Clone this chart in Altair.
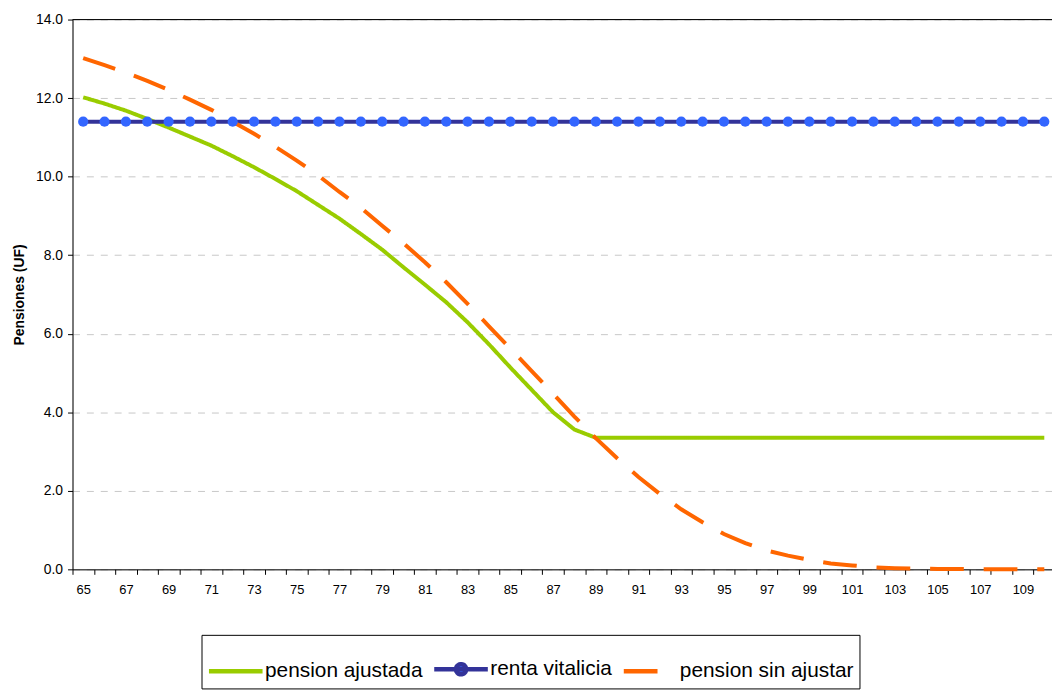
import altair as alt
import pandas as pd

# ---- data ----
edades = list(range(65, 111))

pension_ajustada = [12.02, 11.86, 11.68, 11.47, 11.25, 11.02, 10.79, 10.52, 10.24, 9.94,
                    9.63, 9.28, 8.93, 8.54, 8.14, 7.69, 7.25, 6.80, 6.29, 5.73,
                    5.14, 4.57, 4.00, 3.56, 3.35, 3.35, 3.35, 3.35, 3.35, 3.35,
                    3.35, 3.35, 3.35, 3.35, 3.35, 3.35, 3.35, 3.35, 3.35, 3.35,
                    3.35, 3.35, 3.35, 3.35, 3.35, 3.35]

renta_vitalicia = [11.4, 11.4, 11.4, 11.4, 11.4, 11.4, 11.4, 11.4, 11.4, 11.4,
                   11.4, 11.4, 11.4, 11.4, 11.4, 11.4, 11.4, 11.4, 11.4, 11.4,
                   11.4, 11.4, 11.4, 11.4, 11.4, 11.4, 11.4, 11.4, 11.4, 11.4,
                   11.4, 11.4, 11.4, 11.4, 11.4, 11.4, 11.4, 11.4, 11.4, 11.4,
                   11.4, 11.4, 11.4, 11.4, 11.4, 11.4]

pension_sin_ajustar = [13.02, 12.84, 12.65, 12.44, 12.21, 11.96, 11.70, 11.40, 11.09, 10.76,
                       10.41, 10.03, 9.61, 9.21, 8.75, 8.30, 7.82, 7.31, 6.76, 6.19,
                       5.62, 5.05, 4.47, 3.89, 3.34, 2.83, 2.35, 1.92, 1.53, 1.20,
                       0.90, 0.67, 0.48, 0.35, 0.24, 0.15, 0.10, 0.05, 0.03, 0.02,
                       0.01, 0.01, 0.0, 0.0, 0.0, 0.0]

series_names = ["pension ajustada", "renta vitalicia", "pension sin ajustar"]
series_colors = ["#99CC00", "#333399", "#FF6600"]
y_ticks = [0, 2, 4, 6, 8, 10, 12, 14]

rows = []
for name, vals in zip(series_names, [pension_ajustada, renta_vitalicia, pension_sin_ajustar]):
    for e, v in zip(edades, vals):
        rows.append({"edad": e, "valor": v, "serie": name})
df = pd.DataFrame(rows)
df_rv = df[df["serie"] == "renta vitalicia"]

FONT = "Liberation Sans"

x_enc = alt.X(
    "edad:O",
    bandPosition=0.5,
    scale=alt.Scale(type="band", range=[0, 990], paddingInner=0, paddingOuter=0),
    axis=alt.Axis(
        title=None, grid=False, domainColor="black", tickColor="black", tickSize=5,
        tickBand="extent", labelExpr="datum.value % 2 == 1 ? datum.label : ''",
        labelFontSize=13, labelFont=FONT, labelColor="black", labelPadding=9,
        labelAngle=0, labelOverlap=False,
    ),
)
y_enc = alt.Y(
    "valor:Q",
    scale=alt.Scale(domain=[0, 14], nice=False),
    axis=alt.Axis(
        values=y_ticks, format=".1f", title="Pensiones (UF)", titleFont=FONT,
        titleFontSize=14, titleFontWeight="bold", titleColor="black", titlePadding=9,
        domainColor="black", tickColor="black", tickSize=5, labelFontSize=14,
        labelFont=FONT, labelColor="black", labelPadding=5, grid=True,
        gridColor="#c8c8c8", gridDash=[7, 7], gridWidth=1,
    ),
)

dot_path = "M-1,0H1M0.19,0A0.19,0.19,0,1,1,-0.19,0A0.19,0.19,0,1,1,0.19,0Z"
is_rv = "datum.label == 'renta vitalicia'"
leg = alt.Legend(
    title=None, orient="none", legendX=130, legendY=620, direction="horizontal",
    strokeColor="black", fillColor="white", padding=5,
    symbolType={"expr": is_rv + " ? '" + dot_path + "' : 'stroke'"},
    symbolFillColor={"expr": is_rv + " ? '#3366FF' : 'transparent'"},
    symbolSize=2916, symbolStrokeWidth=4.5, labelFontSize=21, labelFont=FONT,
    labelColor="black", labelOffset=0, columnPadding=2, labelLimit=400,
)

lines = alt.Chart(df).mark_line(strokeWidth=4).encode(
    x=x_enc,
    y=y_enc,
    color=alt.Color("serie:N", scale=alt.Scale(domain=series_names, range=series_colors), legend=leg),
    strokeDash=alt.StrokeDash("serie:N", scale=alt.Scale(domain=series_names, range=[[1, 0], [1, 0], [34, 20]]), legend=leg),
    order=alt.Order("edad:O"),
)

dots = alt.Chart(df_rv).mark_circle(size=105, color="#3366FF", opacity=1).encode(
    x=x_enc, y=y_enc
)

top_border = alt.Chart(pd.DataFrame({"v": [14]})).mark_rule(color="black", strokeWidth=1).encode(
    y=alt.Y("v:Q", scale=alt.Scale(domain=[0, 14], nice=False))
)

chart = alt.layer(lines, dots, top_border).properties(
    width=987, height=554,
    autosize=alt.AutoSizeParams(type="none"),
    padding={"left": 65, "top": 9, "right": 0, "bottom": 127},
).configure_view(stroke=None).configure(background="white")

chart.save("out.html", embed_options={"renderer": "svg", "actions": False})
